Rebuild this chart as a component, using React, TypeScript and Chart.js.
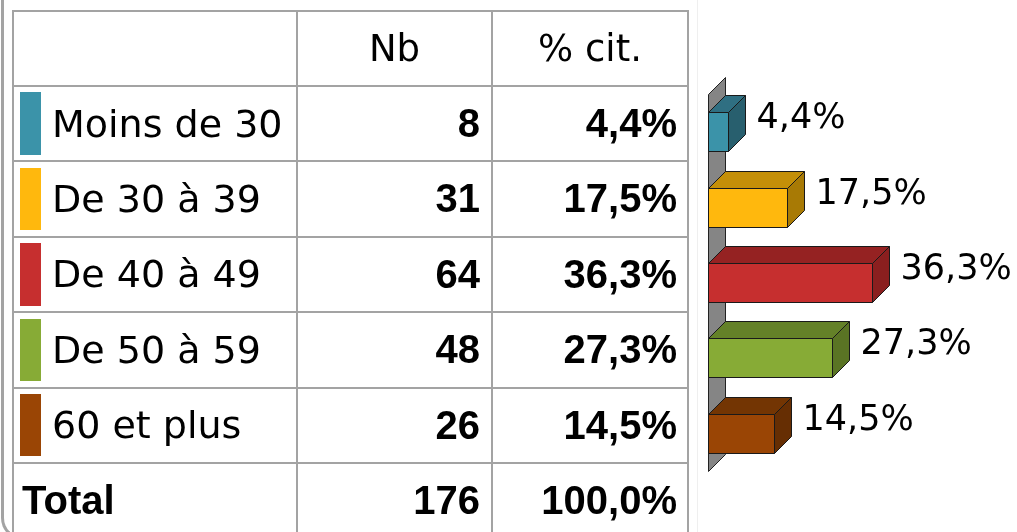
import React, { useEffect, useRef } from "react";
import { Chart, registerables } from "chart.js";

Chart.register(...registerables);

// ---- Data ----
const categories = ["Moins de 30", "De 30 à 39", "De 40 à 49", "De 50 à 59", "60 et plus"];
const counts = [8, 31, 64, 48, 26];
const percents = [4.4, 17.5, 36.3, 27.3, 14.5];
const percentLabels = ["4,4%", "17,5%", "36,3%", "27,3%", "14,5%"];
const headers = ["", "Nb", "% cit."];
const totalLabel = "Total";
const totalCount = 176;
const totalPercentLabel = "100,0%";

// ---- Colours ----
const frontColors = ["#3b93a9", "#ffb80d", "#c62f2f", "#87ab36", "#9a4505"];
const topColors = ["#2f6f82", "#c48f08", "#952222", "#648128", "#733503"];
const sideColors = ["#285f6e", "#a87a05", "#8a1f1f", "#5a7424", "#662e03"];

// ---- Layout ----
const TABLE_TOP = 10.5;
const ROW_H = 75.4;
const COL_X = [13, 297, 492, 688];
const LINE_COLOR = "#a3a3a3";
const DEPTH = 17;
const NORMAL_FONT = '"DejaVu Sans", sans-serif';
const BOLD_FONT = '"Liberation Sans", Arial, sans-serif';

const bar3d = {
  id: "bar3d",
  beforeDatasetsDraw(chart: any) {
    const { ctx, chartArea: a } = chart;
    const x0 = Math.round(chart.scales.x.getPixelForValue(0)) + 0.5;
    const top = Math.round(a.top) + 0.5;
    const bottom = Math.round(a.bottom) + 0.5;
    ctx.save();
    ctx.beginPath();
    ctx.moveTo(x0, bottom);
    ctx.lineTo(x0, top);
    ctx.lineTo(x0 + DEPTH, top - DEPTH);
    ctx.lineTo(x0 + DEPTH, bottom - DEPTH);
    ctx.closePath();
    ctx.fillStyle = "#858585";
    ctx.fill();
    ctx.strokeStyle = "#222";
    ctx.lineWidth = 1;
    ctx.stroke();
    ctx.restore();
  },
  afterDatasetsDraw(chart: any) {
    const { ctx } = chart;
    const meta = chart.getDatasetMeta(0);
    const poly = (pts: number[][], fill: string) => {
      ctx.beginPath();
      ctx.moveTo(pts[0][0], pts[0][1]);
      for (let k = 1; k < pts.length; k++) ctx.lineTo(pts[k][0], pts[k][1]);
      ctx.closePath();
      ctx.fillStyle = fill;
      ctx.fill();
      ctx.strokeStyle = "#1a1a1a";
      ctx.lineWidth = 1;
      ctx.stroke();
    };
    ctx.save();
    meta.data.forEach((el: any, i: number) => {
      const { x, y, base, height } = el.getProps(["x", "y", "base", "height"], true);
      const x0 = Math.round(base) + 0.5;
      const x1 = Math.round(x) + 0.5;
      const yt = Math.round(y - height / 2) + 0.5;
      const yb = Math.round(y + height / 2) + 0.5;
      const D = DEPTH;
      poly([[x0, yt], [x0 + D, yt - D], [x1 + D, yt - D], [x1, yt]], topColors[i]);
      poly([[x1, yt], [x1 + D, yt - D], [x1 + D, yb - D], [x1, yb]], sideColors[i]);
      poly([[x0, yt], [x1, yt], [x1, yb], [x0, yb]], frontColors[i]);
      ctx.font = `35px ${NORMAL_FONT}`;
      ctx.fillStyle = "#000";
      ctx.textAlign = "left";
      ctx.textBaseline = "alphabetic";
      ctx.fillText(percentLabels[i], x1 + D + 11, yt + 15);
    });
    ctx.restore();
  },
};

function ChartPart() {
  const ref = useRef<HTMLCanvasElement | null>(null);
  useEffect(() => {
    if (!ref.current) return;
    const chart = new Chart(ref.current, {
      type: "bar",
      data: {
        labels: categories,
        datasets: [
          {
            data: percents,
            backgroundColor: "rgba(0,0,0,0)",
            borderWidth: 0,
            barThickness: 39,
          },
        ],
      },
      options: {
        indexAxis: "y",
        responsive: false,
        maintainAspectRatio: false,
        animation: false,
        layout: { padding: { left: 20, right: 37.2, top: 93.9, bottom: 61.1 } },
        scales: {
          x: { display: false, min: 0, max: 60 },
          y: { display: false, offset: true },
        },
        plugins: { legend: { display: false }, tooltip: { enabled: false } },
      } as any,
      plugins: [bar3d as any],
    });
    return () => chart.destroy();
  }, []);
  return (
    <canvas
      ref={ref}
      width={329}
      height={532}
      style={{ position: "absolute", left: 688, top: 0, width: 329, height: 532 }}
    />
  );
}

export default function App() {
  const rowsTotal = categories.length + 2;
  const hLines = [];
  for (let r = 0; r <= rowsTotal; r++) {
    const y = TABLE_TOP + r * ROW_H;
    hLines.push(
      <div
        key={"h" + r}
        style={{
          position: "absolute",
          left: COL_X[0] - 1,
          top: y - 1,
          width: COL_X[3] - COL_X[0] + 2,
          height: 2,
          background: LINE_COLOR,
        }}
      />
    );
  }
  const vLines = COL_X.map((x, i) => (
    <div
      key={"v" + i}
      style={{
        position: "absolute",
        left: x - 1,
        top: TABLE_TOP - 1,
        width: 2,
        height: 560,
        background: LINE_COLOR,
      }}
    />
  ));

  const cell = (
    key: string,
    row: number,
    col: number,
    content: React.ReactNode,
    align: "left" | "center" | "right",
    font: string,
    size: number,
    weight: number,
    padL = 0,
    padR = 0
  ) => (
    <div
      key={key}
      style={{
        position: "absolute",
        left: COL_X[col],
        top: TABLE_TOP + row * ROW_H,
        width: COL_X[col + 1] - COL_X[col],
        height: ROW_H,
        display: "flex",
        alignItems: "center",
        justifyContent: align === "left" ? "flex-start" : align === "right" ? "flex-end" : "center",
        paddingLeft: padL,
        paddingRight: padR,
        boxSizing: "border-box",
        fontFamily: font,
        fontSize: size,
        fontWeight: weight,
        color: "#000",
        whiteSpace: "nowrap",
      }}
    >
      {content}
    </div>
  );

  const cells: React.ReactNode[] = [];
  headers.forEach((h, c) => {
    if (h) cells.push(cell("hd" + c, 0, c, h, "center", NORMAL_FONT, 37, 400));
  });
  categories.forEach((cat, i) => {
    const r = i + 1;
    cells.push(
      <div
        key={"sw" + i}
        style={{
          position: "absolute",
          left: 20,
          top: TABLE_TOP + r * ROW_H + 6.5,
          width: 21,
          height: ROW_H - 13,
          background: frontColors[i],
        }}
      />
    );
    cells.push(cell("c" + i, r, 0, cat, "left", NORMAL_FONT, 38, 400, 39));
    cells.push(cell("n" + i, r, 1, String(counts[i]), "right", BOLD_FONT, 40, 700, 0, 12));
    cells.push(cell("p" + i, r, 2, percentLabels[i], "right", BOLD_FONT, 40, 700, 0, 11));
  });
  const tr = categories.length + 1;
  cells.push(cell("tl", tr, 0, totalLabel, "left", BOLD_FONT, 40, 700, 9));
  cells.push(cell("tn", tr, 1, String(totalCount), "right", BOLD_FONT, 40, 700, 0, 12));
  cells.push(cell("tp", tr, 2, totalPercentLabel, "right", BOLD_FONT, 40, 700, 0, 11));

  return (
    <div
      style={{
        position: "fixed",
        left: 0,
        top: 0,
        width: 1017,
        height: 532,
        overflow: "hidden",
        background: "#fff",
      }}
    >
      <div
        style={{
          position: "absolute",
          left: 1,
          top: -30,
          width: 40,
          height: 570,
          borderLeft: "3px solid #a3a3a3",
          borderBottom: "3px solid #a3a3a3",
          borderBottomLeftRadius: 22,
          boxSizing: "border-box",
        }}
      />
      <div
        style={{
          position: "absolute",
          left: COL_X[0],
          top: TABLE_TOP,
          width: COL_X[3] - COL_X[0],
          height: 540,
          background: "#fff",
        }}
      />
      <div style={{ position: "absolute", left: 697, top: 0, width: 1, height: 532, background: "#efefef" }} />
      <ChartPart />
      {hLines}
      {vLines}
      {cells}
    </div>
  );
}
